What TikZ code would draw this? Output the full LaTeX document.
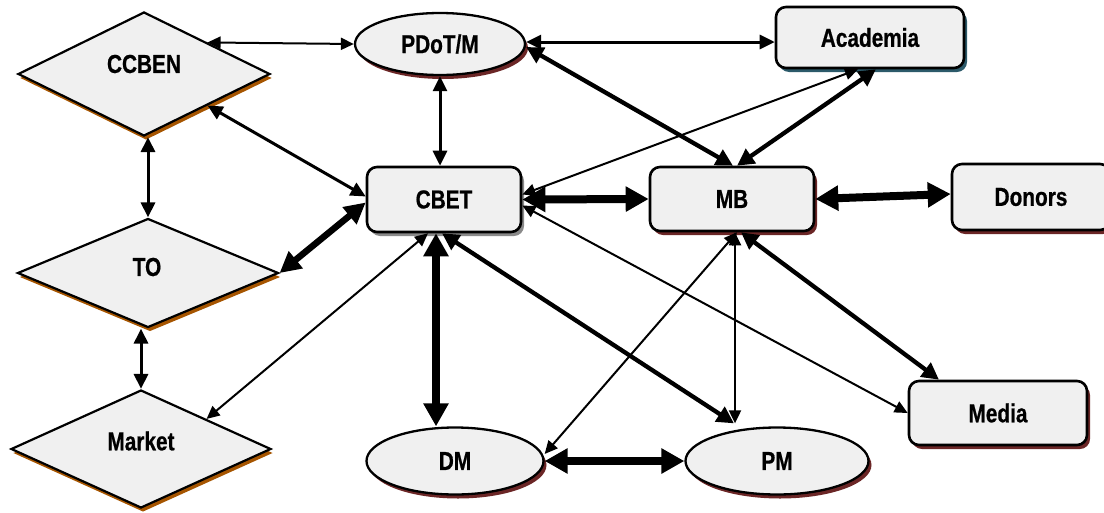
\documentclass[tikz,border=0pt]{standalone}
\usepackage{fontspec}
\setmainfont{Liberation Sans}
\newfontfamily\narrowfont[FakeStretch=0.8, BoldFeatures={FakeBold=0.6}]{Liberation Sans}
\usetikzlibrary{shapes.geometric,arrows.meta,shadows}
\definecolor{boxfill}{HTML}{F0F0F0}
\definecolor{shred}{HTML}{6B2626}
\definecolor{shteal}{HTML}{2C5A6A}
\definecolor{shorange}{HTML}{A65500}
\definecolor{shgray}{HTML}{8A8A8A}
\newcommand{\lblfont}{\narrowfont\bfseries\fontsize{26}{30}\selectfont}
\tikzset{
  box/.style={draw, line width=2.6pt, rounded corners=10pt, fill=boxfill, inner sep=0pt, font=\lblfont},
  oval/.style={ellipse, draw, line width=2.3pt, fill=boxfill, inner sep=0pt, font=\lblfont},
  diam/.style={diamond, draw, line width=2.2pt, fill=boxfill, inner sep=0pt},
  lbl/.style={font=\lblfont, inner sep=0pt},
  redshadow/.style={general shadow={fill=shred, shadow xshift=3pt, shadow yshift=-4pt}},
  tealshadow/.style={general shadow={fill=shteal, shadow xshift=3pt, shadow yshift=-4pt}},
  orangeshadow/.style={general shadow={fill=shorange, shadow xshift=2pt, shadow yshift=-4pt}},
  grayshadow/.style={general shadow={fill=shgray, shadow xshift=3pt, shadow yshift=-4pt}},
  thinline/.style={line width=2pt, {Triangle[length=13pt,width=12pt]}-{Triangle[length=13pt,width=12pt]}},
  medline/.style={line width=3pt, {Triangle[length=15pt,width=14pt]}-{Triangle[length=15pt,width=14pt]}},
  thickline/.style={line width=4.3pt, {Triangle[length=17pt,width=17pt]}-{Triangle[length=17pt,width=17pt]}},
  hugeline/.style={line width=8pt, {Triangle[length=23pt,width=24pt]}-{Triangle[length=23pt,width=24pt]}},
  bigline/.style={line width=6.5pt, {Triangle[length=21pt,width=21pt]}-{Triangle[length=21pt,width=21pt]}}
}
\begin{document}
\begin{tikzpicture}[x=1pt,y=-1pt]
\useasboundingbox (0,0) rectangle (1104,512);
% nodes
\node[box, grayshadow, minimum width=154pt, minimum height=65pt] (cbet) at (444,199.5) {CBET};
\node[box, tealshadow, minimum width=188pt, minimum height=61pt] (academia) at (870,37.5) {Academia};
\node[box, redshadow, minimum width=164pt, minimum height=64pt] (mb) at (732,199) {MB};
\node[box, redshadow, minimum width=158pt, minimum height=66pt] (donors) at (1031,197) {Donors};
\node[box, redshadow, minimum width=178pt, minimum height=64pt] (media) at (998,413) {Media};
\node[oval, redshadow, minimum width=170pt, minimum height=62pt] (pdotm) at (440,44) {PDoT/M};
\node[oval, redshadow, minimum width=177pt, minimum height=67pt] (dm) at (455,461) {DM};
\node[oval, redshadow, minimum width=183pt, minimum height=67pt] (pm) at (777,461) {PM};
\node[diam, orangeshadow, minimum width=252pt, minimum height=124pt] (ccben) at (144,74) {};
\node[lbl] (ccbentext) at (144,64) {CCBEN};
\node[diam, orangeshadow, minimum width=261pt, minimum height=109pt] (to) at (148,273) {};
\node[lbl] (totext) at (147,267) {TO};
\node[diam, orangeshadow, minimum width=260pt, minimum height=118pt] (market) at (141,449) {};
\node[lbl] (markettext) at (141,441) {Market};
% connectors
\draw[thinline] (ccben.north east) -- (pdotm.west);
\draw[medline] (pdotm.south) -- (pdotm.south |- cbet.north);
\draw[medline] (ccben.south east) -- ([yshift=3pt]cbet.west);
\draw[medline] (to.north |- ccben.south) -- (to.north);
\draw[bigline] (to.east) -- ([yshift=-3pt]cbet.west);
\draw[medline] (market.north |- to.south) -- (market.north);
\draw[thinline] ([xshift=-16pt]cbet.south) -- (market.north east);
\draw[hugeline] ([xshift=-8pt]cbet.south) -- ([xshift=-19pt]dm.north);
\draw[thickline] ([xshift=-2pt]cbet.south) -- ([xshift=-43pt,yshift=3pt]pm.north);
\draw[hugeline] (cbet.east) -- (mb.west);
\draw[medline] ([yshift=2pt]pdotm.east) -- ([yshift=2pt]pdotm.east -| academia.west);
\draw[thickline] ([yshift=-3pt]pdotm.east) -- ([xshift=1pt]mb.north);
\draw[thinline] ([yshift=5pt]cbet.east) -- ([xshift=-12pt]academia.south);
\draw[thickline] ([xshift=5pt]mb.north) -- ([xshift=6pt]academia.south);
\draw[hugeline] (mb.east) -- ([yshift=3pt]donors.west);
\draw[thinline] ([yshift=-6pt]cbet.east) -- (media.west);
\draw[thickline] ([xshift=9pt]mb.south) -- ([xshift=-59pt]media.north);
\draw[thinline] ([xshift=3pt]mb.south) -- ([xshift=-42pt,yshift=3pt]pm.north);
\draw[thinline] ([xshift=5pt]mb.south) -- ([yshift=7pt]dm.east);
\draw[hugeline] (dm.east) -- (pm.west);
\end{tikzpicture}
\end{document}
